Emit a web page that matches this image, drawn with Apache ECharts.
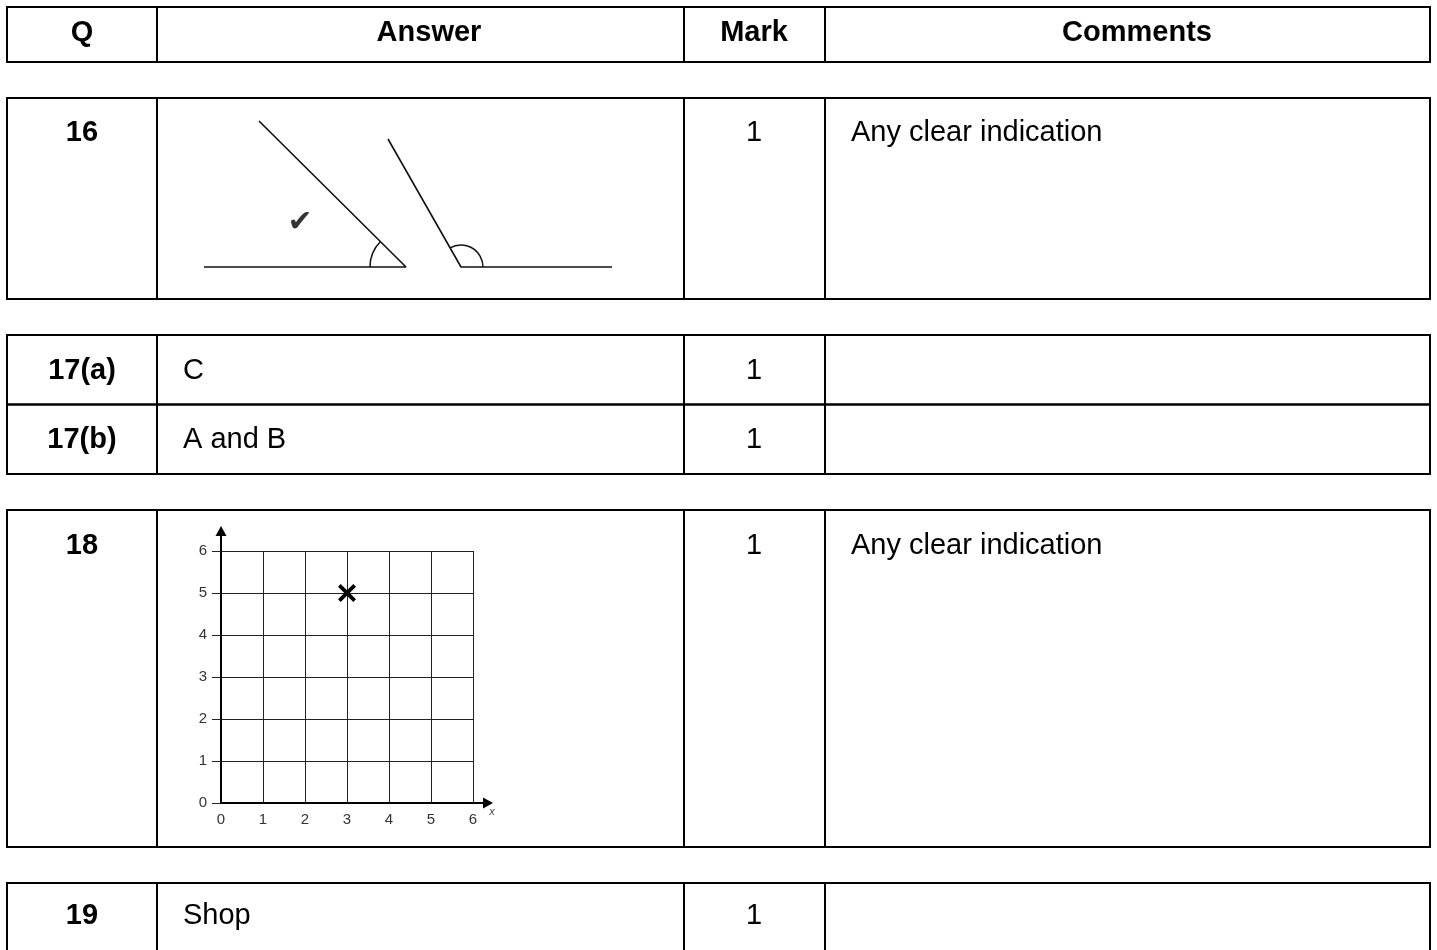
<!DOCTYPE html>
<html>
<head>
<meta charset="utf-8">
<script src="https://cdn.jsdelivr.net/npm/echarts@6/dist/echarts.min.js"></script>
<style>
  html, body { margin: 0; padding: 0; background: #fff; }
  #chart { width: 1437px; height: 950px; }
</style>
</head>
<body>
<div id="chart"></div>
<script>
// mark scheme rows
const headers = ['Q', 'Answer', 'Mark', 'Comments'];
const questions = ['16', '17(a)', '17(b)', '18', '19'];
const answers = ['', 'C', 'A and B', '', 'Shop'];
const marks = ['1', '1', '1', '1', '1'];
const comments = ['Any clear indication', '', '', 'Any clear indication', ''];

// Q16 drawing: two angles (polyline base -> vertex -> arm), arcs [cx, cy, r, fromDeg, toDeg]
const acuteAngle = [[44, 0], [246, 0], [99, 146]];
const obtuseAngle = [[452, 0], [301, 0], [228, 128]];
const angleArcs = [[246, 0, 36, 135, 180], [301, 0, 22, 0, 120]];
const tickPos = [[140, 44]];

// Q18 coordinate grid
const gridTicks = [0, 1, 2, 3, 4, 5, 6];
const crossPoint = [[3, 5]];

// table layout
const colEdges = [7, 157, 684, 825, 1430];
const headerBox = [7, 62];
const rowBoxes = [[98, 299], [335, 404.5], [404.5, 474], [510, 847], [883, 952]];
const headerTextY = 33;
const rowTextY = [133, 371, 440, 546, 916];
const headerX = [82, 429, 754, 1137];

const FONT = '"Liberation Sans", Arial, sans-serif';

const chart = echarts.init(document.getElementById('chart'));

const graphic = [];
function addCells(top, bottom) {
  for (let c = 0; c < colEdges.length - 1; c++) {
    graphic.push({
      type: 'rect',
      shape: { x: colEdges[c], y: top, width: colEdges[c + 1] - colEdges[c], height: bottom - top },
      style: { fill: 'none', stroke: '#000', lineWidth: 2 },
      silent: true
    });
  }
}
function addText(text, x, y, align, bold) {
  if (!text) return;
  graphic.push({
    type: 'text',
    x: x, y: y,
    style: {
      text: text,
      fontSize: 29,
      fontWeight: bold ? 'bold' : 'normal',
      fontFamily: FONT,
      fill: '#000',
      align: align,
      verticalAlign: 'middle'
    },
    silent: true
  });
}

addCells(headerBox[0], headerBox[1]);
headers.forEach((h, i) => addText(h, headerX[i], headerTextY, 'center', true));

rowBoxes.forEach((b, i) => {
  addCells(b[0], b[1]);
  addText(questions[i], 82, rowTextY[i], 'center', true);
  addText(answers[i], 183, rowTextY[i], 'left', false);
  addText(marks[i], 754, rowTextY[i], 'center', false);
  addText(comments[i], 851, rowTextY[i], 'left', false);
});

const hiddenAxis = {
  axisLine: { show: false }, axisTick: { show: false },
  axisLabel: { show: false }, splitLine: { show: false }
};

const option = {
  animation: false,
  backgroundColor: '#fff',
  graphic: graphic,
  grid: [
    // Q16 drawing area
    { left: 160, top: 100, width: 520, height: 167 },
    // Q18 grid 0..6
    { left: 221, top: 551, width: 252, height: 252 },
    // Q18 axis arrows
    { left: 221, top: 531, width: 267, height: 272 }
  ],
  xAxis: [
    Object.assign({ gridIndex: 0, type: 'value', min: 0, max: 520 }, hiddenAxis),
    {
      gridIndex: 1, type: 'value',
      min: gridTicks[0], max: gridTicks[gridTicks.length - 1], interval: 1,
      axisLine: { show: false },
      axisTick: { show: false },
      axisLabel: { fontSize: 15, color: '#333', fontFamily: FONT, margin: 9 },
      splitLine: { show: true, lineStyle: { color: '#222', width: 1 } }
    },
    {
      gridIndex: 2, type: 'value', min: 0, max: 1,
      axisLine: {
        show: true, symbol: ['none', 'triangle'], symbolSize: [11, 10],
        lineStyle: { color: '#000', width: 2 }
      },
      axisTick: { show: false }, axisLabel: { show: false }, splitLine: { show: false },
      name: 'x', nameLocation: 'end', nameGap: 4,
      nameTextStyle: {
        fontSize: 11, fontStyle: 'italic', color: '#445', fontFamily: FONT,
        align: 'center', verticalAlign: 'top', padding: [3, 0, 0, 0]
      }
    }
  ],
  yAxis: [
    Object.assign({ gridIndex: 0, type: 'value', min: 0, max: 167 }, hiddenAxis),
    {
      gridIndex: 1, type: 'value',
      min: gridTicks[0], max: gridTicks[gridTicks.length - 1], interval: 1,
      axisLine: { show: false },
      axisTick: { show: true, length: 9, lineStyle: { color: '#222', width: 1 } },
      axisLabel: { fontSize: 15, color: '#333', fontFamily: FONT, margin: 14 },
      splitLine: { show: true, lineStyle: { color: '#222', width: 1 } }
    },
    {
      gridIndex: 2, type: 'value', min: 0, max: 1,
      axisLine: {
        show: true, symbol: ['none', 'triangle'], symbolSize: [11, 10],
        lineStyle: { color: '#000', width: 2 }
      },
      axisTick: { show: false }, axisLabel: { show: false }, splitLine: { show: false }
    }
  ],
  series: [
    {
      type: 'line', xAxisIndex: 0, yAxisIndex: 0, data: acuteAngle,
      symbol: 'none', clip: false, silent: true,
      lineStyle: { color: '#111', width: 1.6 }
    },
    {
      type: 'line', xAxisIndex: 0, yAxisIndex: 0, data: obtuseAngle,
      symbol: 'none', clip: false, silent: true,
      lineStyle: { color: '#111', width: 1.6 }
    },
    {
      type: 'custom', xAxisIndex: 0, yAxisIndex: 0, data: angleArcs, silent: true,
      renderItem: function (params, api) {
        const c = api.coord([api.value(0), api.value(1)]);
        const r = api.size([api.value(2), 0])[0];
        return {
          type: 'arc',
          shape: {
            cx: c[0], cy: c[1], r: r,
            startAngle: -api.value(4) * Math.PI / 180,
            endAngle: -api.value(3) * Math.PI / 180,
            clockwise: true
          },
          style: { fill: 'none', stroke: '#111', lineWidth: 1.5 }
        };
      }
    },
    {
      type: 'scatter', xAxisIndex: 0, yAxisIndex: 0, data: tickPos, silent: true,
      symbolSize: 1, itemStyle: { color: 'rgba(0,0,0,0)' },
      label: {
        show: true, position: 'inside', formatter: '\u2714',
        fontSize: 30, fontFamily: '"DejaVu Sans"', color: '#000'
      }
    },
    {
      type: 'scatter', xAxisIndex: 1, yAxisIndex: 1, data: crossPoint, silent: true,
      symbol: 'path://M0,3L3,0L10,7L17,0L20,3L13,10L20,17L17,20L10,13L3,20L0,17L7,10Z',
      symbolSize: 18, itemStyle: { color: '#000', opacity: 1 }
    }
  ]
};

chart.setOption(option);
</script>
</body>
</html>
